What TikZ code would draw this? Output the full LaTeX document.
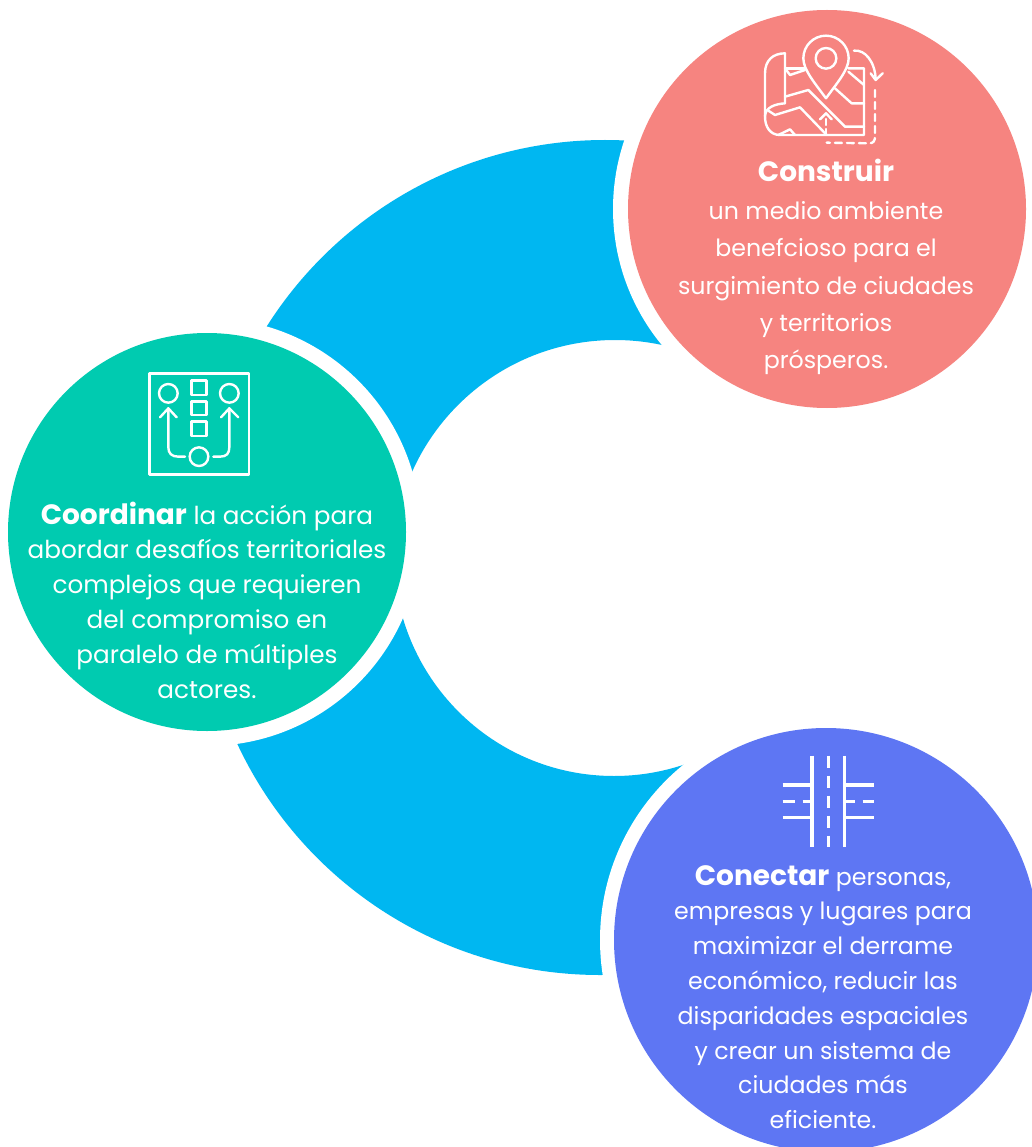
\documentclass[tikz,border=0pt]{standalone}
\usepackage{fontspec}
\setmainfont{Poppins}
\definecolor{ringblue}{HTML}{00B7F1}
\definecolor{pinkc}{HTML}{F68480}
\definecolor{greenc}{HTML}{00CBB0}
\definecolor{bluec}{HTML}{5E76F3}
\newcommand{\leadword}[1]{{\fontsize{28}{30}\selectfont\bfseries #1}}
\tikzset{
  disc/.style={circle,inner sep=0pt,minimum size=#1},
  halo/.style={circle,fill=white,inner sep=0pt,minimum size=#1},
  body/.style={text=white,align=center,inner sep=0pt},
  icon/.style={draw=white,line width=2.4pt,line cap=round,line join=round},
  iconthick/.style={draw=white,line width=3.5pt},
}
\begin{document}
\begin{tikzpicture}[x=1pt,y=-1pt]
\useasboundingbox (0,0) rectangle (1032,1147);
\fill[white] (0,0) rectangle (1032,1147);
% ring bands
\begin{scope}
\clip (0,0) rectangle (740,500);
\fill[ringblue,even odd rule] (605,540) circle[radius=400] (615,562) circle[radius=222];
\end{scope}
\begin{scope}
\clip (0,600) rectangle (700,1147);
\fill[ringblue,even odd rule] (600,575) circle[radius=400] (614,556) circle[radius=220];
\end{scope}
% discs
\node[halo=428pt] (hp) at (827,209) {};
\node[halo=428pt] (hg) at (207,532) {};
\node[halo=452pt] (hb) at (826,940) {};
\node[disc=398pt,fill=pinkc] (p) at (827,209) {};
\node[disc=398pt,fill=greenc] (g) at (207,532) {};
\node[disc=424pt,fill=bluec] (b) at (826,940) {};
% texts
\node[body,font=\fontsize{23.7}{37.3}\selectfont] (tp) at (826,267) {\leadword{Construir}\\[1pt]un medio ambiente\\benefcioso para el\\surgimiento de ciudades\\y territorios\\prósperos.};
\node[body,font=\fontsize{24.7}{34.8}\selectfont] (tg) at (207,600) {\leadword{Coordinar} la acción para\\abordar desafíos territoriales\\complejos que requieren\\del compromiso en\\paralelo de múltiples\\actores.};
\node[body,font=\fontsize{23.7}{34.8}\selectfont] (tb) at (823,997) {\leadword{Conectar} personas,\\empresas y lugares para\\maximizar el derrame\\económico, reducir las\\disparidades espaciales\\y crear un sistema de\\ciudades más\\eficiente.};
% map icon
\begin{scope}[shift={(740,20)},scale=1/3]
\draw[icon] (258,235) .. controls (225,190) and (190,150) .. (190,115) arc[start angle=180,end angle=360,radius=68] .. controls (326,150) and (290,190) .. (258,235);
\draw[icon] (258,115) circle[radius=31];
\draw[icon] (135,100) .. controls (100,100) and (75,120) .. (75,160) -- (75,290) .. controls (75,320) and (90,345) .. (120,345) -- (372,345) -- (372,145) -- (325,145);
\draw[icon] (135,100) -- (135,250) .. controls (105,252) and (75,262) .. (75,290);
\draw[icon] (135,145) -- (195,145);
\draw[icon] (135,145) -- (150,165) -- (195,150);
\draw[icon] (135,230) -- (205,210) -- (315,320) -- (372,320);
\draw[icon] (285,205) -- (335,250) -- (372,250);
\draw[icon] (325,155) -- (372,195);
\draw[icon] (85,272) -- (105,285) -- (180,262) -- (260,345);
\draw[icon] (115,345) -- (150,328) -- (165,345);
\draw[icon,dash pattern=on 6pt off 4pt] (258,345) -- (258,290);
\draw[icon] (240,298) -- (258,280) -- (275,298);
\draw[icon,dash pattern=on 7pt off 5pt] (405,210) -- (405,350) .. controls (405,362) and (400,370) .. (388,370) -- (260,368);
\draw[icon] (342,92) .. controls (375,88) and (405,125) .. (407,178);
\draw[icon] (392,160) -- (407,180) -- (428,160);
\end{scope}
% coordination icon
\begin{scope}[shift={(130,360)},scale=1/3]
\draw[icon] (58,40) rectangle (357,343);
\draw[icon] (115,100) circle[radius=28];
\draw[icon] (298,100) circle[radius=28];
\draw[icon] (207,290) circle[radius=28];
\draw[icon] (185,62) rectangle (230,105);
\draw[icon] (185,125) rectangle (230,165);
\draw[icon] (185,185) rectangle (230,228);
\draw[icon] (165,290) -- (145,290) .. controls (125,290) and (115,280) .. (115,262) -- (115,145);
\draw[icon] (90,172) -- (115,145) -- (140,172);
\draw[icon] (250,290) -- (270,290) .. controls (290,290) and (298,280) .. (298,262) -- (298,145);
\draw[icon] (273,172) -- (298,145) -- (325,172);
\end{scope}
% road icon
\begin{scope}[shift={(760,745)},scale=1/3]
\draw[iconthick] (156,32) -- (156,305);
\draw[iconthick] (254,32) -- (254,305);
\foreach \a/\c in {32/68,92/128,152/188,212/248,272/305}{\draw[iconthick] (205,\a) -- (205,\c);}
\foreach \y in {120,218}{\draw[iconthick] (68,\y) -- (156,\y); \draw[iconthick] (254,\y) -- (342,\y);}
\draw[iconthick] (68,170) -- (104,170);
\draw[iconthick] (128,170) -- (156,170);
\draw[iconthick] (254,170) -- (284,170);
\draw[iconthick] (308,170) -- (342,170);
\end{scope}
\end{tikzpicture}
\end{document}
